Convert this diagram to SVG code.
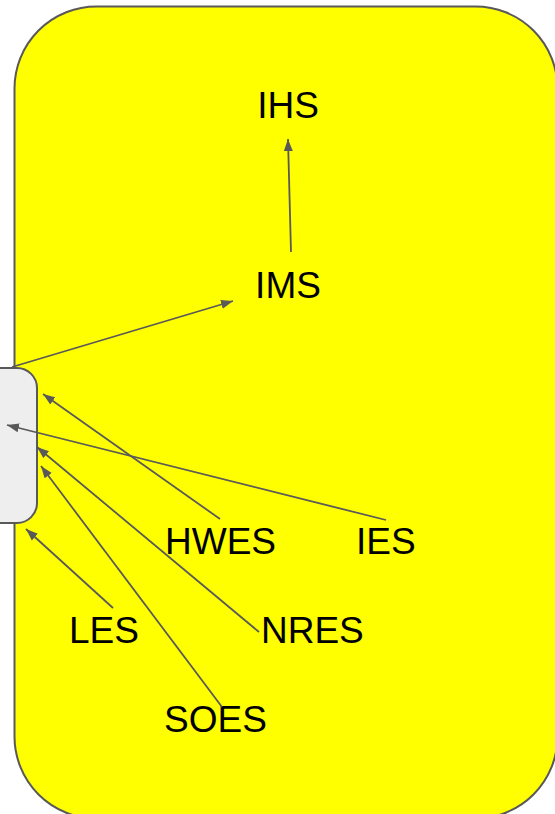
<svg xmlns="http://www.w3.org/2000/svg" width="555" height="814" viewBox="0 0 555 814">
<style>
.lbl{font-family:"Liberation Sans",Arial,sans-serif;font-size:37px;fill:#000}
.edge{stroke:#595959;stroke-width:1.8;fill:none;marker-end:url(#ah)}
</style>
<defs>
<marker id="ah" markerUnits="userSpaceOnUse" markerWidth="14" markerHeight="10" refX="12" refY="5" orient="auto">
<path d="M0,0.5 L12,5 L0,9.5 Z" fill="#595959"/>
</marker>
</defs>
<rect width="555" height="814" fill="#fff"/>
<g id="container">
<rect x="14.5" y="6.5" width="543" height="812" rx="82" ry="82" fill="#ffff00" stroke="#595959" stroke-width="2"/>
</g>
<g id="gray">
<rect x="-20" y="368" width="57" height="155" rx="20" ry="20" fill="#eeeeee" stroke="#595959" stroke-width="2"/>
</g>
<g id="IHS"><text class="lbl" x="288" y="118" text-anchor="middle">IHS</text></g>
<g id="IMS"><text class="lbl" x="288" y="298" text-anchor="middle">IMS</text></g>
<g id="HWES"><text class="lbl" x="165" y="554">HWES</text></g>
<g id="IES"><text class="lbl" x="356" y="554">IES</text></g>
<g id="LES"><text class="lbl" x="69" y="643">LES</text></g>
<g id="NRES"><text class="lbl" x="261" y="643">NRES</text></g>
<g id="SOES"><text class="lbl" x="164" y="732">SOES</text></g>
<g id="connectors">
<line class="edge" x1="291" y1="252" x2="288" y2="139"/>
<line class="edge" x1="12" y1="367" x2="233" y2="301"/>
<line class="edge" x1="220" y1="519" x2="43" y2="394"/>
<line class="edge" x1="386" y1="520" x2="7" y2="425"/>
<line class="edge" x1="259" y1="632" x2="37" y2="447"/>
<line class="edge" x1="222" y1="707" x2="41" y2="466"/>
<line class="edge" x1="113" y1="608" x2="26" y2="529"/>
</g>
</svg>
